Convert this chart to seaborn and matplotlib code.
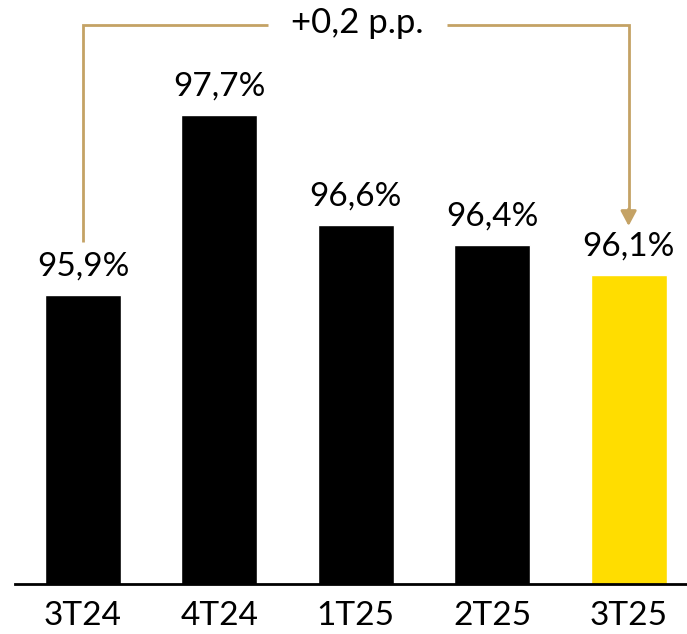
import matplotlib
matplotlib.use("Agg")
import matplotlib.pyplot as plt
import seaborn as sns
import pandas as pd

# Quarterly values (%)
quarters = ["3T24", "4T24", "1T25", "2T25", "3T25"]
values = [95.9, 97.7, 96.6, 96.4, 96.1]
value_labels = ["95,9%", "97,7%", "96,6%", "96,4%", "96,1%"]
bar_colors = ["#000000", "#000000", "#000000", "#000000", "#FFDD00"]
delta_label = "+0,2 p.p."

sns.set_theme(style="white")
plt.rcParams["font.family"] = ["Lato", "DejaVu Sans"]

GOLD = "#C4A265"

df = pd.DataFrame({"quarter": quarters, "value": values})

fig = plt.figure(figsize=(6.87, 6.34), dpi=100)
ax = fig.add_axes([15 / 687, 1 - 584 / 634, 672 / 687, 584 / 634])

sns.barplot(data=df, x="quarter", y="value", hue="quarter",
            palette=bar_colors, legend=False, width=0.557,
            saturation=1, ax=ax)

ax.set_ylim(93.01, 98.85)
ax.set_xlim(-0.4985, 4.428)

for i, (v, lab) in enumerate(zip(values, value_labels)):
    ax.annotate(lab, xy=(i, v), xytext=(0, 10), textcoords="offset points",
                ha="center", va="bottom", fontsize=24, color="#000000")

# Bracket from the first quarter to the last
top_y = 98.60
ax.plot([0, 0, 1.356], [96.43, top_y, top_y], color=GOLD, lw=2,
        solid_capstyle="butt", solid_joinstyle="miter", clip_on=False)
ax.plot([2.669, 4, 4], [top_y, top_y, 96.72], color=GOLD, lw=2,
        solid_capstyle="butt", solid_joinstyle="miter", clip_on=False)
ax.annotate("", xy=(4, 96.59), xytext=(4, 96.76),
            arrowprops=dict(arrowstyle="-|>,head_length=0.75,head_width=0.4",
                            color=GOLD, lw=2, shrinkA=0, shrinkB=0))
ax.text(2.01, top_y + 0.02, delta_label, ha="center", va="center", fontsize=25,
        color="#000000")

ax.set_xlabel("")
ax.set_ylabel("")
ax.set_yticks([])
ax.tick_params(axis="x", length=0, pad=12, labelsize=24, colors="#000000")
for side in ["top", "right", "left"]:
    ax.spines[side].set_visible(False)
ax.spines["bottom"].set_color("#000000")
ax.spines["bottom"].set_linewidth(2)

fig.savefig("out.png", dpi=100)
